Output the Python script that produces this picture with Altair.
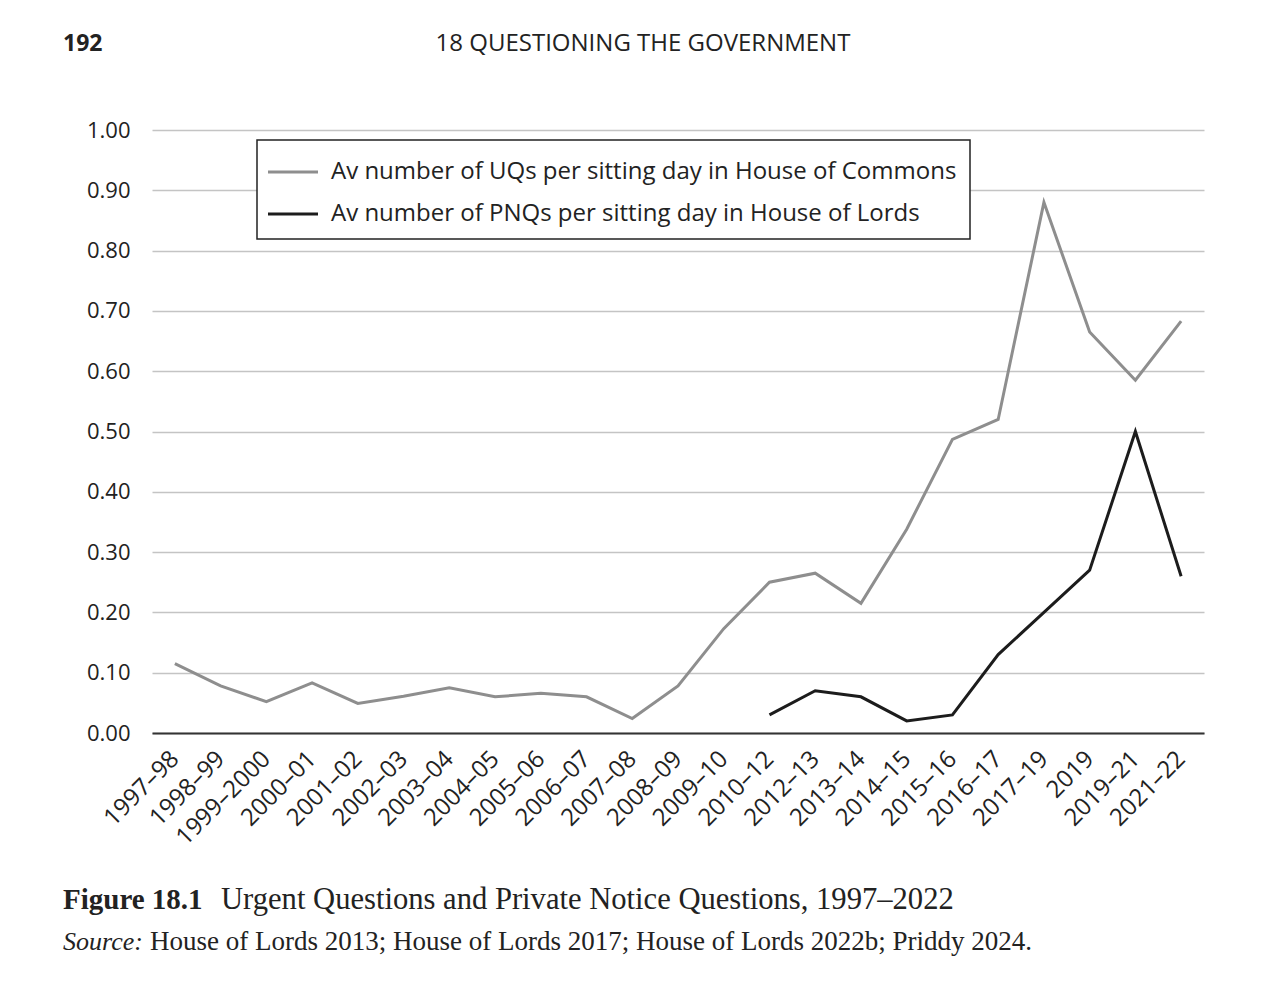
import altair as alt
import pandas as pd

years = ["1997–98", "1998–99", "1999–2000", "2000–01", "2001–02", "2002–03", "2003–04",
         "2004–05", "2005–06", "2006–07", "2007–08", "2008–09", "2009–10", "2010–12",
         "2012–13", "2013–14", "2014–15", "2015–16", "2016–17", "2017–19", "2019",
         "2019–21", "2021–22"]
uq_values = [0.115, 0.078, 0.052, 0.083, 0.049, 0.061, 0.075, 0.060, 0.066, 0.060, 0.024,
             0.078, 0.173, 0.250, 0.265, 0.215, 0.338, 0.487, 0.520, 0.880, 0.665, 0.585, 0.683]
pnq_years = ["2010–12", "2012–13", "2013–14", "2014–15", "2015–16", "2016–17", "2017–19",
             "2019", "2019–21", "2021–22"]
pnq_values = [0.030, 0.070, 0.060, 0.020, 0.030, 0.130, 0.200, 0.270, 0.500, 0.260]
series_names = ["Av number of UQs per sitting day in House of Commons",
                "Av number of PNQs per sitting day in House of Lords"]
series_colors = ["#8e8e8e", "#1c1c1c"]

rows = [{"year": y, "value": v, "series": series_names[0]} for y, v in zip(years, uq_values)]
rows += [{"year": y, "value": v, "series": series_names[1]} for y, v in zip(pnq_years, pnq_values)]
df = pd.DataFrame(rows)

SANS = "Open Sans"
SERIF = "Liberation Serif"

lines = alt.Chart(df).mark_line(strokeWidth=3).encode(
    x=alt.X("year:O", sort=years, title=None,
            scale=alt.Scale(type="point", padding=0.5),
            axis=alt.Axis(labelAngle=-45, labelAlign="right", labelBaseline="middle",
                          labelFont=SANS, labelFontSize=24, labelColor="#222",
                          labelPadding=22, ticks=False, domain=True, domainColor="#333",
                          domainWidth=2, grid=False)),
    y=alt.Y("value:Q", title=None, scale=alt.Scale(domain=[0, 1], nice=False),
            axis=alt.Axis(values=[i / 10 for i in range(11)], format=".2f",
                          labelFont=SANS, labelFontSize=22, labelColor="#222",
                          labelPadding=22, ticks=False, domain=False,
                          grid=True, gridColor="#c4c4c4", gridWidth=1.5)),
    color=alt.Color("series:N", title=None,
                    scale=alt.Scale(domain=series_names, range=series_colors),
                    legend=None),
)

def txt(s, x, y, font, size, weight="normal", style="normal", align="left", color="#222"):
    return alt.Chart(pd.DataFrame({"t": [s]})).mark_text(
        font=font, fontSize=size, fontWeight=weight, fontStyle=style,
        align=align, baseline="middle", color=color
    ).encode(text="t:N", x=alt.value(x), y=alt.value(y))

# legend box
legend_box = alt.Chart(pd.DataFrame({"a": [0]})).mark_rect(
    fill="white", stroke="#222", strokeWidth=1.5
).encode(x=alt.value(105), x2=alt.value(818), y=alt.value(10), y2=alt.value(109))

legend_parts = [legend_box]
for i, (name, col) in enumerate(zip(series_names, series_colors)):
    yy = 42 + i * 42
    legend_parts.append(
        alt.Chart(pd.DataFrame({"a": [0]})).mark_rule(strokeWidth=3, color=col).encode(
            x=alt.value(116), x2=alt.value(166), y=alt.value(yy))
    )
    legend_parts.append(txt(name, 179, yy, SANS, 24))

annots = [
    txt("192", -89, -86, SANS, 23, weight="bold"),
    txt("18 QUESTIONING THE GOVERNMENT", 491, -86, SANS, 24, align="center"),
    txt("Figure 18.1", -89, 770, SERIF, 29, weight="bold"),
    txt("Urgent Questions and Private Notice Questions, 1997–2022", 69, 770, SERIF, 30.6),
    txt("Source:", -89, 812, SERIF, 26, style="italic"),
    txt("House of Lords 2013; House of Lords 2017; House of Lords 2022b; Priddy 2024.", -2, 812, SERIF, 27),
]

chart = alt.layer(lines, *legend_parts, *annots).properties(
    width=1052, height=603,
    autosize=alt.AutoSizeParams(type="none"),
    padding={"left": 144, "top": 122, "right": 72, "bottom": 240},
).configure(background="white").configure_view(stroke=None)

chart.save("out.html", embed_options={"renderer": "svg", "actions": False})
